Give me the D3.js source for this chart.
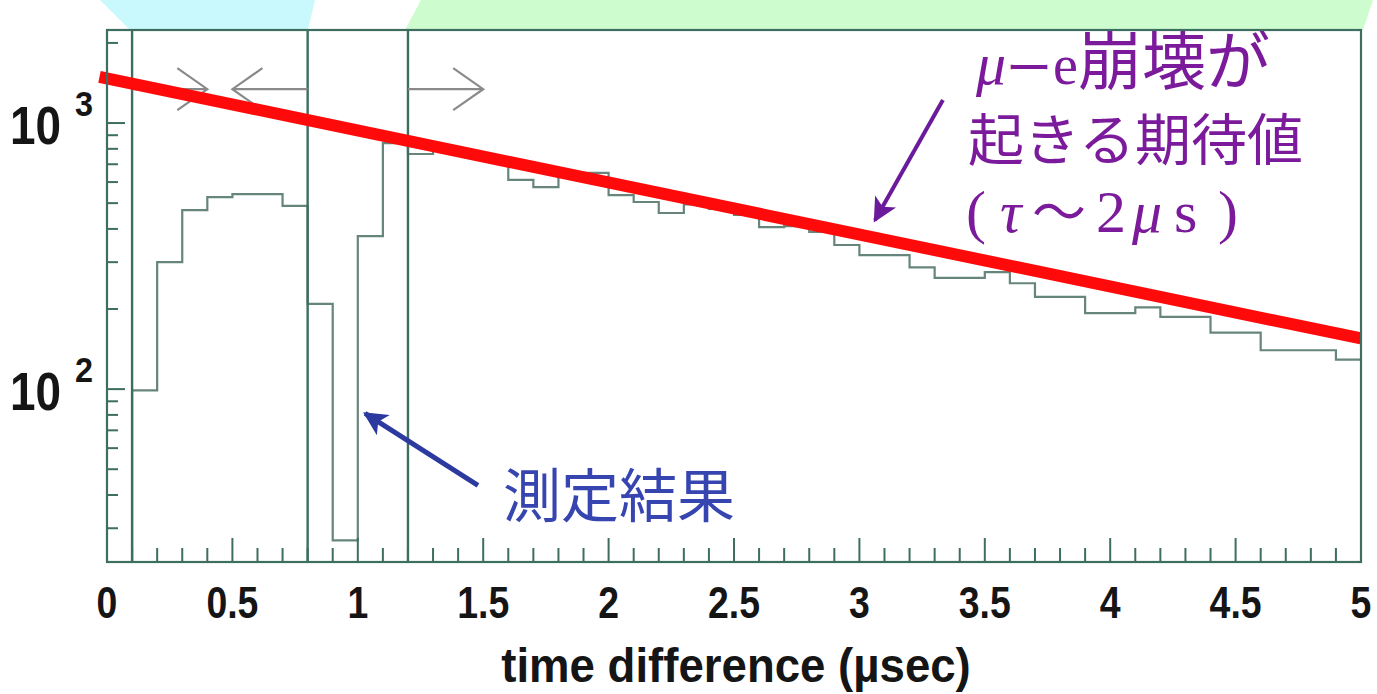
<!DOCTYPE html>
<html>
<head>
<meta charset="utf-8">
<script src="https://cdn.jsdelivr.net/npm/d3@7"></script>
<style>
  body { margin: 0; background: #fff; }
  svg { display: block; }
</style>
</head>
<body>
<svg id="chart" width="1377" height="694"></svg>
<script>
// lower edge of each 0.1 usec bin
var binStarts = [0.1, 0.2, 0.3, 0.4, 0.5, 0.6, 0.7, 0.8, 0.9, 1.0,
  1.1, 1.2, 1.3, 1.4, 1.5, 1.6, 1.7, 1.8, 1.9, 2.0,
  2.1, 2.2, 2.3, 2.4, 2.5, 2.6, 2.7, 2.8, 2.9, 3.0,
  3.1, 3.2, 3.3, 3.4, 3.5, 3.6, 3.7, 3.8, 3.9, 4.0,
  4.1, 4.2, 4.3, 4.4, 4.5, 4.6, 4.7, 4.8, 4.9];
var counts = [99, 300, 471, 527, 541, 541, 488, 209, 27, 376,
  841, 765, 800, 770, 730, 611, 574, 640, 650, 536,
  505, 459, 495, 476, 452, 406, 410, 390, 348, 319,
  319, 287, 262, 262, 275, 250, 222, 222, 193, 193,
  203, 187, 187, 163, 163, 140, 140, 140, 129];

// expected mu-e decay line (straight on log scale)
var expT = [-0.03, 5];
var expN = [1490, 155];

// gate lines + the little arrows
var gates = [0.1, 0.8, 1.2];
var arrowFrom = [0.1, 0.8, 1.2];
var arrowTo = [0.4, 0.5, 1.5];
var arrowLevel = 1340;

var xTickLabels = ["0", "0.5", "1", "1.5", "2", "2.5", "3", "3.5", "4", "4.5", "5"];
var xLabelVals = [0, 0.5, 1, 1.5, 2, 2.5, 3, 3.5, 4, 4.5, 5];
var yMajor = [100, 1000];
var yMinor = [30, 40, 50, 60, 70, 80, 90, 200, 300, 400, 500, 600, 700, 800, 900, 2000];

// NB: can't call it "top", window.top is taken
var pLeft = 107, pRight = 1361, pTop = 30, pBottom = 562;
var frameCol = "#3d6e60";

var svg = d3.select("#chart");

var x = d3.scaleLinear().domain([0, 5]).range([pLeft, pRight]);
var y = d3.scaleLog().domain([22.4, 2237]).range([pBottom, pTop]).clamp(true);

var defs = svg.append("defs");
defs.append("clipPath").attr("id", "plotclip")
  .append("rect").attr("x", pLeft).attr("y", pTop)
  .attr("width", pRight - pLeft).attr("height", pBottom - pTop);

function headMarker(id, col) {
  defs.append("marker").attr("id", id)
    .attr("markerUnits", "userSpaceOnUse")
    .attr("viewBox", "0 0 10 10")
    .attr("refX", 9).attr("refY", 5)
    .attr("markerWidth", 28).attr("markerHeight", 24)
    .attr("orient", "auto")
    .append("path").attr("d", "M0,0 L10,5 L0,10 L2.5,5 Z").attr("fill", col);
}
headMarker("headPurple", "#6a1a9a");
headMarker("headBlue", "#2c3aa0");

var plot = svg.append("g").attr("clip-path", "url(#plotclip)");

// histogram as a step line
var pts = [[binStarts[0], 1]];
for (var i = 0; i < binStarts.length; i++) {
  pts.push([binStarts[i], counts[i]]);
}
pts.push([5, counts[counts.length - 1]]);

var step = d3.line()
  .x(function(d) { return x(d[0]); })
  .y(function(d) { return y(d[1]); })
  .curve(d3.curveStepAfter);

plot.append("path")
  .datum(pts)
  .attr("d", step)
  .attr("fill", "none")
  .attr("stroke", "#66857c")
  .attr("stroke-width", 2.2);

// gates
plot.selectAll("line.gate")
  .data(gates)
  .enter().append("line")
  .attr("class", "gate")
  .attr("x1", function(d) { return x(d); })
  .attr("x2", function(d) { return x(d); })
  .attr("y1", pTop).attr("y2", pBottom)
  .attr("stroke", frameCol).attr("stroke-width", 2.4);

// grey arrows with open heads
var ay = y(arrowLevel);
arrowFrom.forEach(function(f, k) {
  var x0 = x(f), x1 = x(arrowTo[k]);
  var dir = x1 > x0 ? 1 : -1;
  var g = plot.append("g").attr("stroke", "#8a8a8a").attr("stroke-width", 2.2).attr("fill", "none");
  g.append("line").attr("x1", x0).attr("x2", x1).attr("y1", ay).attr("y2", ay);
  g.append("path").attr("d",
    "M" + (x1 - dir * 30) + "," + (ay - 21) + " L" + x1 + "," + ay + " L" + (x1 - dir * 30) + "," + (ay + 21));
});

// ticks x
var xMinor = x.ticks(50);
svg.append("g").selectAll("line")
  .data(xMinor)
  .enter().append("line")
  .attr("x1", function(d) { return x(d); })
  .attr("x2", function(d) { return x(d); })
  .attr("y1", pBottom)
  .attr("y2", function(d) { return Math.abs(d * 2 - Math.round(d * 2)) < 1e-6 ? pBottom - 24 : pBottom - 14; })
  .attr("stroke", frameCol).attr("stroke-width", 2);

// ticks y
svg.append("g").selectAll("line")
  .data(yMinor.concat(yMajor))
  .enter().append("line")
  .attr("x1", pLeft)
  .attr("x2", function(d) { return yMajor.indexOf(d) >= 0 ? pLeft + 18 : pLeft + 11; })
  .attr("y1", function(d) { return y(d); })
  .attr("y2", function(d) { return y(d); })
  .attr("stroke", frameCol).attr("stroke-width", 2);

// red expectation line
svg.append("path")
  .datum(expT.map(function(t, k) { return [t, expN[k]]; }))
  .attr("d", d3.line().x(function(d) { return x(d[0]); }).y(function(d) { return y(d[1]); }))
  .attr("stroke", "#ff0a0a").attr("stroke-width", 12).attr("fill", "none");

// annotation arrows
svg.append("line")
  .attr("x1", x(3.333)).attr("y1", y(1220))
  .attr("x2", x(3.062)).attr("y2", y(431))
  .attr("stroke", "#6a1a9a").attr("stroke-width", 4)
  .attr("marker-end", "url(#headPurple)");

svg.append("line")
  .attr("x1", x(1.479)).attr("y1", y(43.5))
  .attr("x2", x(1.029)).attr("y2", y(81))
  .attr("stroke", "#2c3aa0").attr("stroke-width", 5)
  .attr("marker-end", "url(#headBlue)");

// purple text
var cjk = "'Noto Sans CJK JP', 'Noto Sans CJK SC', sans-serif";
var serif = "'Liberation Serif', 'DejaVu Serif', serif";
var purple = "#7b1b9c";

var t1 = svg.append("text").attr("y", 84).attr("fill", purple);
t1.append("tspan").attr("x", 976).attr("font-family", serif).attr("font-style", "italic").attr("font-size", 60).text("μ");
t1.append("tspan").attr("x", 1006).attr("font-family", cjk).attr("font-size", 46).text("ー");
t1.append("tspan").attr("x", 1053).attr("font-family", serif).attr("font-size", 56).text("e");
t1.append("tspan").attr("x", 1078).attr("font-family", cjk).attr("font-size", 64).text("崩壊が");

svg.append("text").attr("x", 968).attr("y", 160)
  .attr("fill", purple).attr("font-family", cjk).attr("font-size", 56)
  .text("起きる期待値");

var t3 = svg.append("text").attr("y", 232).attr("fill", purple).attr("font-family", serif).attr("font-size", 60);
t3.append("tspan").attr("x", 966).text("(");
t3.append("tspan").attr("x", 1000).attr("font-style", "italic").text("τ");
t3.append("tspan").attr("x", 1032).attr("font-family", cjk).attr("font-size", 54).text("～");
t3.append("tspan").attr("x", 1096).text("2");
t3.append("tspan").attr("x", 1132).attr("font-style", "italic").text("μ");
t3.append("tspan").attr("x", 1174).text("s");
t3.append("tspan").attr("x", 1218).text(")");

// blue label
svg.append("text").attr("x", 503).attr("y", 517)
  .attr("fill", "#3645b0").attr("font-family", cjk).attr("font-size", 58)
  .text("測定結果");

// slide decoration bands on top (drawn over the text, like the original)
svg.append("polygon")
  .attr("points", [[100, 0], [315, 0], [308, 30], [130, 30]].join(" "))
  .attr("fill", "#c9f9fd");
svg.append("polygon")
  .attr("points", [[421, 0], [1373, 0], [1363, 30], [405, 30]].join(" "))
  .attr("fill", "#cdfcce");

// frame
svg.append("rect")
  .attr("x", pLeft).attr("y", pTop)
  .attr("width", pRight - pLeft).attr("height", pBottom - pTop)
  .attr("fill", "none").attr("stroke", frameCol).attr("stroke-width", 2.2);

// x labels (a bit condensed like the scan)
var sans = "'Liberation Sans', Arial, sans-serif";
svg.append("g").selectAll("text")
  .data(xLabelVals)
  .enter().append("text")
  .attr("transform", function(d) { return "translate(" + x(d) + ",618) scale(0.85,1)"; })
  .attr("text-anchor", "middle")
  .attr("font-family", sans).attr("font-weight", "bold").attr("font-size", 44)
  .attr("fill", "#151515")
  .text(function(d, k) { return xTickLabels[k]; });

svg.append("text")
  .attr("transform", "translate(736,682) scale(0.95,1)")
  .attr("text-anchor", "middle")
  .attr("font-family", sans).attr("font-weight", "bold").attr("font-size", 48)
  .attr("fill", "#151515")
  .text("time difference (µsec)");

// y labels 10^n
var yExp = ["3", "2"];
yMajor.slice().reverse().forEach(function(v, k) {
  var yy = y(v);
  svg.append("text")
    .attr("transform", "translate(10," + (yy + 21) + ") scale(0.85,1)")
    .attr("font-family", sans).attr("font-weight", "bold").attr("font-size", 54)
    .attr("fill", "#151515").text("10");
  svg.append("text")
    .attr("transform", "translate(75," + (yy - 7) + ") scale(0.9,1)")
    .attr("font-family", sans).attr("font-weight", "bold").attr("font-size", 36)
    .attr("fill", "#151515").text(yExp[k]);
});
</script>
</body>
</html>
